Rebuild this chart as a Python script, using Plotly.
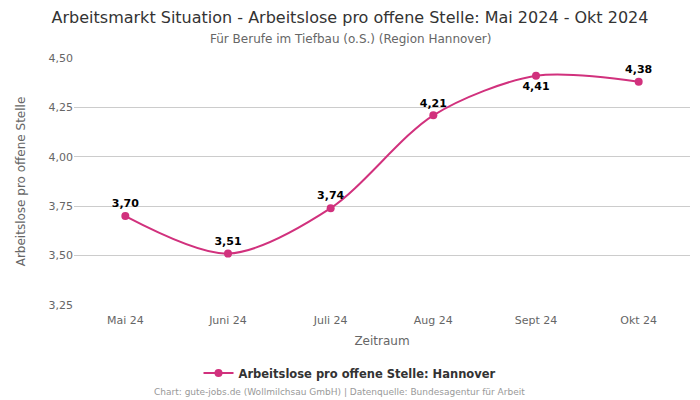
import plotly.graph_objects as go

months = ["Mai 24", "Juni 24", "Juli 24", "Aug 24", "Sept 24", "Okt 24"]
values = [3.70, 3.51, 3.74, 4.21, 4.41, 4.38]
label_pos = ["top center", "top center", "top center", "top center", "bottom center", "top center"]
series_name = "Arbeitslose pro offene Stelle: Hannover"
color = "#d1317d"
font = "DejaVu Sans"

fig = go.Figure()
fig.add_trace(go.Scatter(
    x=months, y=values, mode="lines+markers+text",
    name=series_name,
    line=dict(color=color, width=2, shape="spline", smoothing=0.85),
    marker=dict(color=color, size=8),
    text=[f"{v:.2f}".replace(".", ",") for v in values],
    textposition=label_pos,
    textfont=dict(family=font, size=11, color="#000000", weight="bold"),
    cliponaxis=False,
))

center_x = (350 - 74) / 616

fig.update_layout(
    width=700, height=400,
    paper_bgcolor="white", plot_bgcolor="white",
    font=dict(family=font, color="#666666"),
    margin=dict(l=74, r=10, t=58, b=95, autoexpand=False),
    title=dict(
        text="Arbeitsmarkt Situation - Arbeitslose pro offene Stelle: Mai 2024 - Okt 2024",
        x=0.5, xanchor="center", xref="container", yref="container", y=1 - 17 / 400, yanchor="middle",
        font=dict(family=font, size=16, color="#333333"),
    ),
    showlegend=True,
    legend=dict(orientation="h", x=center_x, xanchor="center", y=-68 / 247, yanchor="middle",
                font=dict(family=font, size=11.5, color="#333333", weight="bold")),
    xaxis=dict(
        title=dict(text="Zeitraum", font=dict(size=12, color="#666666"), standoff=10),
        tickfont=dict(size=11, color="#666666"), ticklabelstandoff=7,
        range=[-0.5, 5.5], automargin=False,
        showgrid=False, showline=False, ticks="",
    ),
    yaxis=dict(
        title=dict(text="Arbeitslose pro offene Stelle", font=dict(size=12, color="#666666"), standoff=20),
        range=[3.25, 4.5], dtick=0.25, tickformat=".2f", automargin=False,
        tickfont=dict(size=11, color="#666666"),
        gridcolor="#cccccc", zeroline=False, showline=False,
    ),
    separators=",.",
    annotations=[
        dict(text="Für Berufe im Tiefbau (o.S.) (Region Hannover)",
             x=center_x, xref="paper", xanchor="center", y=1 + 19 / 247, yref="paper", yanchor="middle",
             showarrow=False, font=dict(family=font, size=12, color="#666666")),
        dict(text="Chart: gute-jobs.de (Wollmilchsau GmbH) | Datenquelle: Bundesagentur für Arbeit",
             x=(339.5 - 74) / 616, xref="paper", xanchor="center", y=-87 / 247, yref="paper", yanchor="middle",
             showarrow=False, font=dict(family=font, size=9, color="#999999")),
    ],
)

fig.write_html("out.html", config={"displayModeBar": False},
               post_script="document.body.style.margin='0';")
